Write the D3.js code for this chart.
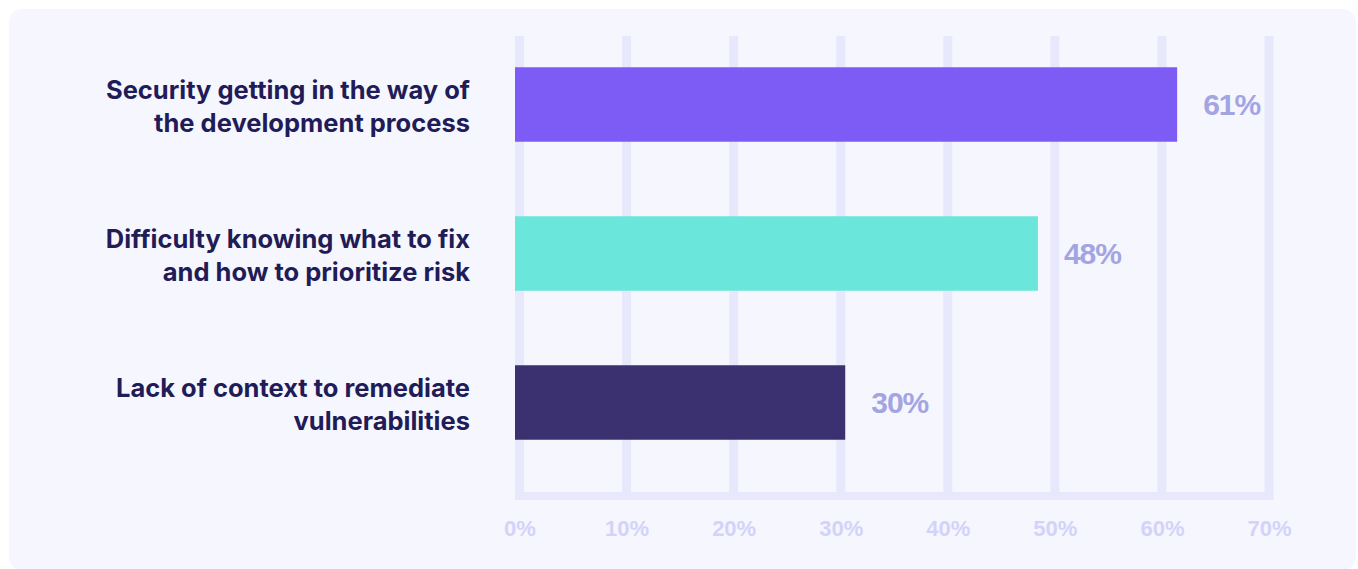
<!DOCTYPE html>
<html>
<head>
<meta charset="utf-8">
<script src="https://cdn.jsdelivr.net/npm/d3@7"></script>
<style>
  body { margin: 0; background: #fff; }
</style>
</head>
<body>
<svg id="chart"></svg>
<script>
// data
const categories = [
  ["Security getting in the way of", "the development process"],
  ["Difficulty knowing what to fix", "and how to prioritize risk"],
  ["Lack of context to remediate", "vulnerabilities"]
];
const values = [61, 48, 30];
const barColors = ["#7c5cf5", "#6ae6da", "#3b3070"];
const ticks = [0, 10, 20, 30, 40, 50, 60, 70];

const W = 1358, H = 569;
const svg = d3.select("#chart").attr("width", W).attr("height", H);

// card background
svg.append("rect")
  .attr("x", 9).attr("y", 9)
  .attr("width", W - 11).attr("height", H - 8)
  .attr("rx", 13)
  .attr("fill", "#f6f6fe");

const gridW = 9;
const x = d3.scaleLinear().domain([0, 70]).range([519.5, 1269]);
const y = d3.scaleBand()
  .domain(d3.range(categories.length))
  .range([30, 477])
  .paddingInner(0.5)
  .paddingOuter(0.25);

const gridTop = 36, gridBase = 492;

// vertical gridlines
svg.append("g").selectAll("rect")
  .data(ticks)
  .join("rect")
    .attr("x", d => x(d) - gridW / 2)
    .attr("y", gridTop)
    .attr("width", gridW)
    .attr("height", gridBase - gridTop)
    .attr("fill", "#e8e8fd");

// baseline
svg.append("rect")
  .attr("x", x(0) - gridW / 2)
  .attr("y", gridBase)
  .attr("width", x(70) - x(0) + gridW)
  .attr("height", 8)
  .attr("fill", "#e8e8fd");

// x axis labels
const xAxis = d3.axisBottom(x).tickValues(ticks).tickSize(0).tickPadding(0)
  .tickFormat(d => d + "%");
const ax = svg.append("g")
  .attr("transform", `translate(0,${gridBase + 36})`)
  .call(xAxis);
ax.select(".domain").remove();
ax.selectAll("text")
  .attr("dy", "0.35em")
  .attr("fill", "#d3d3fa")
  .style("font-family", "'Liberation Sans', Arial, sans-serif")
  .style("font-weight", "700")
  .style("font-size", "22px");

// bars
svg.append("g").selectAll("rect")
  .data(values)
  .join("rect")
    .attr("x", x(0) - gridW / 2)
    .attr("y", (d, i) => y(i))
    .attr("width", d => x(d) - x(0) + gridW)
    .attr("height", y.bandwidth())
    .attr("fill", (d, i) => barColors[i]);

// value labels
svg.append("g").selectAll("text")
  .data(values)
  .join("text")
    .attr("x", d => x(d) + gridW / 2 + 26)
    .attr("y", (d, i) => y(i) + y.bandwidth() / 2)
    .attr("dy", "0.36em")
    .attr("fill", "#a3a5e3")
    .style("font-family", "'Liberation Sans', Arial, sans-serif")
    .style("font-weight", "600")
    .style("font-size", "30px")
    .style("letter-spacing", "-1px")
    .text(d => d + "%");

// category labels
const cat = svg.append("g").selectAll("text")
  .data(categories)
  .join("text")
    .attr("x", 470)
    .attr("y", (d, i) => y(i) + y.bandwidth() / 2)
    .attr("text-anchor", "end")
    .attr("fill", "#1f1c57")
    .style("font-family", "Inter, 'Noto Sans', sans-serif")
    .style("font-weight", "700")
    .style("font-size", "25.5px");
cat.selectAll("tspan")
  .data(d => d)
  .join("tspan")
    .attr("x", 470)
    .attr("dy", (d, i) => i === 0 ? "-0.2em" : "1.27em")
    .text(d => d);
</script>
</body>
</html>
